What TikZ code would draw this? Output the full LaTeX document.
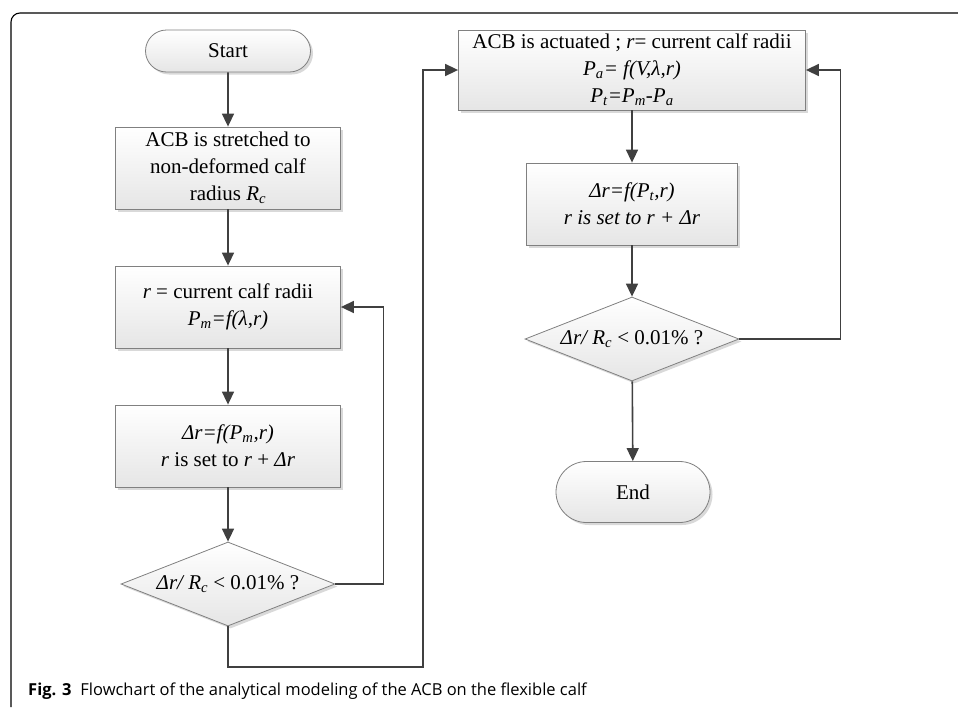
\documentclass[tikz,border=0pt]{standalone}
\usepackage{fontspec}
\setmainfont{Liberation Serif}
\newfontfamily\capfont{Open Sans}
\usetikzlibrary{arrows.meta,shapes.geometric,shapes.misc,shadows}

\tikzset{
  boxfill/.style={draw=black!50, line width=0.8pt, top color=white, bottom color=black!10,
    drop shadow={shadow xshift=2.5pt, shadow yshift=-2.5pt, opacity=0.25, fill=black!60}},
  procbox/.style={boxfill, rectangle, inner sep=0pt, align=center, font=\fontsize{21}{27}\selectfont},
  termbox/.style={boxfill, rounded rectangle, inner sep=0pt, font=\fontsize{21}{27}\selectfont},
  testbox/.style={boxfill, diamond, inner sep=0pt, aspect=2.55, minimum width=214pt, minimum height=84pt,
    font=\fontsize{21}{27}\selectfont},
  flow/.style={draw=black!75, line width=1.6pt, -{Triangle[length=13pt,width=12pt]}}
}

\begin{document}
\begin{tikzpicture}[x=1pt,y=-1pt]
			%%%%% START %%%%%
			\useasboundingbox (0,0) rectangle (958,707);
			
			% frame
			\draw[line width=1.1pt, rounded corners=9pt] (11,707) -- (11,13) -- (958,13);
			
			% left column
			\node[termbox, minimum width=165pt, minimum height=42pt] (start) at (228,51) {Start};
			\node[procbox, minimum width=225pt, minimum height=82pt] (stretch) at (228,168)
				{ACB is stretched to\\non-deformed calf\\radius \textit{R}\textsubscript{\textit{c}}};
			\node[procbox, minimum width=225pt, minimum height=82pt] (radius) at (228,307)
				{\textit{r} = current calf radii\\\textit{P\textsubscript{m}=f(λ,r)}};
			\node[procbox, minimum width=225pt, minimum height=82pt] (stepm) at (228,446)
				{\textit{Δr=f(P\textsubscript{m},r)}\\\textit{r} is set to \textit{r} + \textit{Δr}};
			\node[testbox] (testm) at (228,584) {\textit{Δr/ R\textsubscript{c}} < 0.01\% ?};
			
			% right column
			\node[procbox, minimum width=347pt, minimum height=80pt] (actuate) at (632,70)
				{ACB is actuated ; \textit{r}= current calf radii\\\textit{P\textsubscript{a}= f(V,λ,r)}\\\textit{P\textsubscript{t}=P\textsubscript{m}-P\textsubscript{a}}};
			\node[procbox, minimum width=211pt, minimum height=82pt] (stept) at (632,204)
				{\textit{Δr=f(P\textsubscript{t},r)}\\\textit{r is set to r + Δr}};
			\node[testbox] (testt) at (632,339) {\textit{Δr/ R\textsubscript{c}} < 0.01\% ?};
			\node[termbox, minimum width=154pt, minimum height=61pt] (end) at (633,492) {End};
			
			\coordinate (jump) at (423,667);
			
			% connectors
			\draw[flow] (start) -- (stretch);
			\draw[flow] (stretch) -- (radius);
			\draw[flow] (radius) -- (stepm);
			\draw[flow] (stepm) -- (testm);
			\draw[flow] (testm.east) -- ++(48,0) |- (radius.east);
			\draw[flow] (testm.south) |- (jump) |- (actuate.west);
			\draw[flow] (actuate) -- (stept);
			\draw[flow] (stept) -- (testt);
			\draw[flow] (testt.east) -- ++(101,0) |- (actuate.east);
			\draw[flow] (testt) -- (end);
			
			% caption
			\node[anchor=base west, inner sep=0pt, font=\capfont\fontsize{16.5}{20}\selectfont] (caption) at (28,695)
				{\textbf{Fig. 3}\hspace{9pt}Flowchart of the analytical modeling of the ACB on the flexible calf};
			
			%%%%% END %%%%%
		\end{tikzpicture}
\end{document}
